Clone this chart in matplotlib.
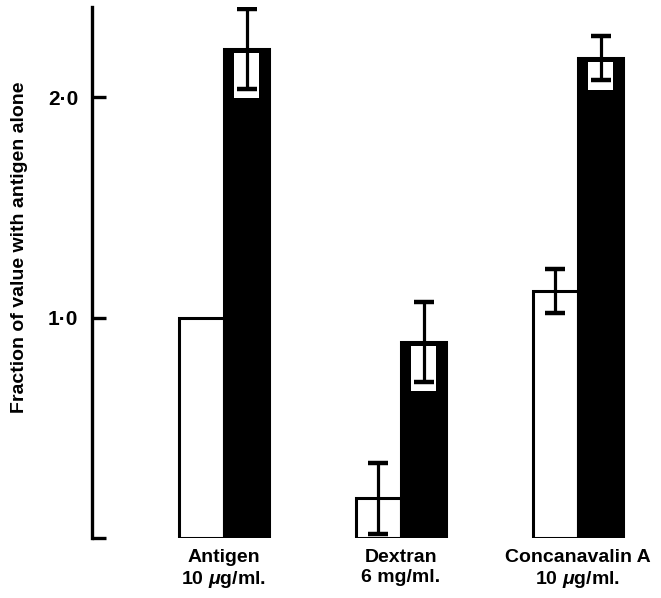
import matplotlib
matplotlib.use('Agg')
import matplotlib.pyplot as plt
import numpy as np

plt.rcParams['font.family'] = ['Liberation Sans', 'DejaVu Sans']
plt.rcParams['font.weight'] = 'bold'
plt.rcParams['mathtext.fontset'] = 'custom'
plt.rcParams['mathtext.it'] = 'Liberation Sans:italic:bold'
plt.rcParams['mathtext.rm'] = 'Liberation Sans:bold'

groups = ['Antigen\n10 $\\mu$g/ml.', 'Dextran\n6 mg/ml.', 'Concanavalin A\n10 $\\mu$g/ml.']
open_vals = [1.0, 0.18, 1.12]      # antigen alone / open bars
open_err = [0.0, 0.16, 0.10]
filled_vals = [2.22, 0.89, 2.18]   # filled bars
filled_err = [0.18, 0.18, 0.10]
yticks = [0.0, 1.0, 2.0]
yticklabels = ['', '1\u00b70', '2\u00b70']

fig = plt.figure(figsize=(6.61, 5.98), dpi=100)
ax = fig.add_axes([92/661, 60/598, 548/661, 531/598])

x = np.arange(len(groups))
w = 0.255
lw = 2.2

ax.bar(x - w/2, open_vals, w, color='white', edgecolor='black', linewidth=lw, zorder=2)
ax.bar(x + w/2, filled_vals, w, color='black', edgecolor='black', linewidth=lw, zorder=2)

# white window behind the lower half of each error bar on the filled bars
fv = np.array(filled_vals)
fe = np.array(filled_err)
win_bot = fv - fe - 0.045
win_top = fv - 0.02
ax.bar(x + w/2, win_top - win_bot, 0.14, bottom=win_bot, color='white', linewidth=0, zorder=3)

err_kw = dict(fmt='none', ecolor='black', elinewidth=2.3, capsize=7.5, capthick=3.2, zorder=4)
oe = np.array(open_err)
mask = oe > 0
ax.errorbar((x - w/2)[mask], np.array(open_vals)[mask], yerr=oe[mask], **err_kw)
ax.errorbar(x + w/2, filled_vals, yerr=filled_err, **err_kw)

ax.set_xlim(-0.746, 2.35)
ax.set_ylim(0, 2.41)
for s in ['top', 'right', 'bottom']:
    ax.spines[s].set_visible(False)
ax.spines['left'].set_linewidth(2.4)
ax.set_yticks(yticks)
ax.set_yticklabels(yticklabels, fontsize=15, fontweight='bold')
ax.tick_params(axis='y', direction='in', length=10, width=2.4, pad=10)
ax.set_xticks(x)
ax.set_xticklabels(groups, fontsize=14, fontweight='bold', linespacing=1.2)
ax.tick_params(axis='x', length=0, pad=8)

fig.text(20/661, 1 - 247/598, 'Fraction of value with antigen alone', rotation=90,
         ha='center', va='center', fontsize=14, fontweight='bold')

fig.savefig('out.png', dpi=100)
